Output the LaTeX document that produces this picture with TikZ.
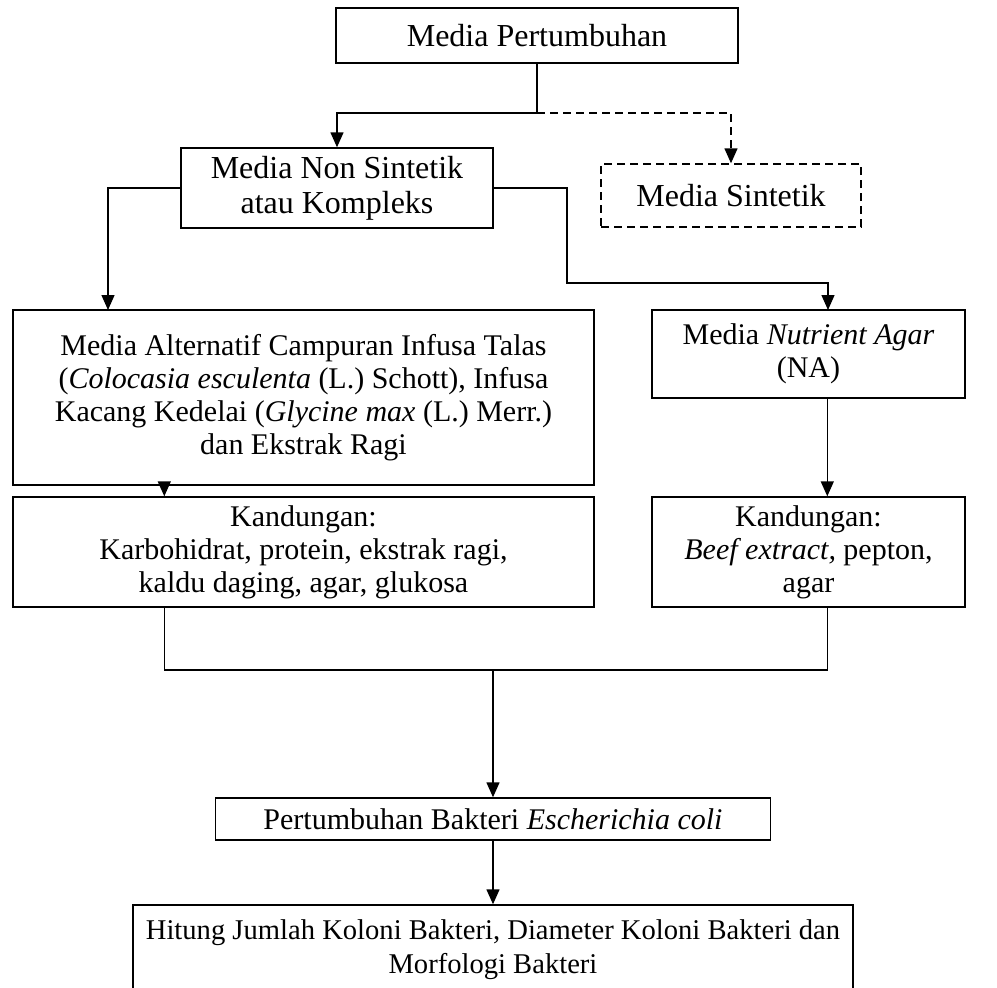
\documentclass[tikz,border=0pt]{standalone}
\usepackage{fontspec}
\setmainfont{Liberation Serif}
\usetikzlibrary{arrows.meta}
\begin{document}
\begin{tikzpicture}[x=1pt,y=-1pt,
  box/.style={draw, line width=1.4pt, inner sep=0pt, align=center, font=\fontsize{30}{33}\selectfont},
  bigt/.style={font=\fontsize{32}{35}\selectfont},
  smallt/.style={font=\fontsize{28.6}{34}\selectfont},
  dbox/.style={box, dash pattern=on 8pt off 5pt},
  arr/.style={line width=1.4pt, -{Triangle[width=13pt,length=15pt]}},
  ln/.style={line width=1.4pt}]
\useasboundingbox (0,0) rectangle (997,988);
\clip (0,0) rectangle (997,988);

\node[box, bigt, minimum width=402pt, minimum height=55pt] (A) at (537,35.5) {Media Pertumbuhan};
\node[box, bigt, minimum width=312pt, minimum height=80pt] (B) at (337,188) {Media Non Sintetik\\atau Kompleks};
\node[dbox, bigt, minimum width=260pt, minimum height=63pt] (C) at (731,195.5) {Media Sintetik};
\node[box, minimum width=581pt, minimum height=175pt] (D) at (303.5,397.5) {Media Alternatif Campuran Infusa Talas\\(\textit{Colocasia esculenta} (L.) Schott), Infusa\\Kacang Kedelai (\textit{Glycine max} (L.) Merr.)\\dan Ekstrak Ragi};
\node[box, minimum width=313pt, minimum height=88pt] (E) at (808.5,354) {Media \textit{Nutrient Agar}\\(NA)};
\node[box, minimum width=581pt, minimum height=110pt] (F) at (303.5,552) {Kandungan:\\Karbohidrat, protein, ekstrak ragi,\\kaldu daging, agar, glukosa};
\node[box, minimum width=313pt, minimum height=110pt] (G) at (808.5,552) {Kandungan:\\\textit{Beef extract,} pepton,\\agar};
\node[box, minimum width=555pt, minimum height=42pt] (H) at (493,819) {Pertumbuhan Bakteri \textit{Escherichia coli}};
\node[box, smallt, minimum width=720pt, minimum height=90pt] (I) at (493,950) {Hitung Jumlah Koloni Bakteri, Diameter Koloni Bakteri dan\\Morfologi Bakteri};

% top split
\coordinate (j1) at (537,113);
\draw[ln] (A.south) -- (j1);
\draw[arr] (j1) -| (B.north);
\draw[arr, dash pattern=on 8pt off 5pt] (j1) -| (C.north);

% from B
\coordinate (dTop) at (108,310);
\draw[arr] (B.west) -| (dTop);
\coordinate (eTop) at (828,310);
\draw[arr] (B.east) -| (567,283) -| (eTop);

% D -> F, E -> G
\path (D.south west) ++(152,0) coordinate (dA);
\draw[arr] (dA) -- (dA |- F.north);
\path (E.south west) ++(176,0) coordinate (eA);
\draw[arr] (eA) -- (eA |- G.north);

% merge
\path (F.south west) ++(152,0) coordinate (fA);
\path (G.south west) ++(176,0) coordinate (gA);
\coordinate (m) at (493,670);
\draw[ln] (fA) -- (fA |- m) -- (gA |- m) -- (gA);
\draw[arr] (m) -- (H.north);
\draw[arr] (H.south) -- (I.north);
\end{tikzpicture}
\end{document}
